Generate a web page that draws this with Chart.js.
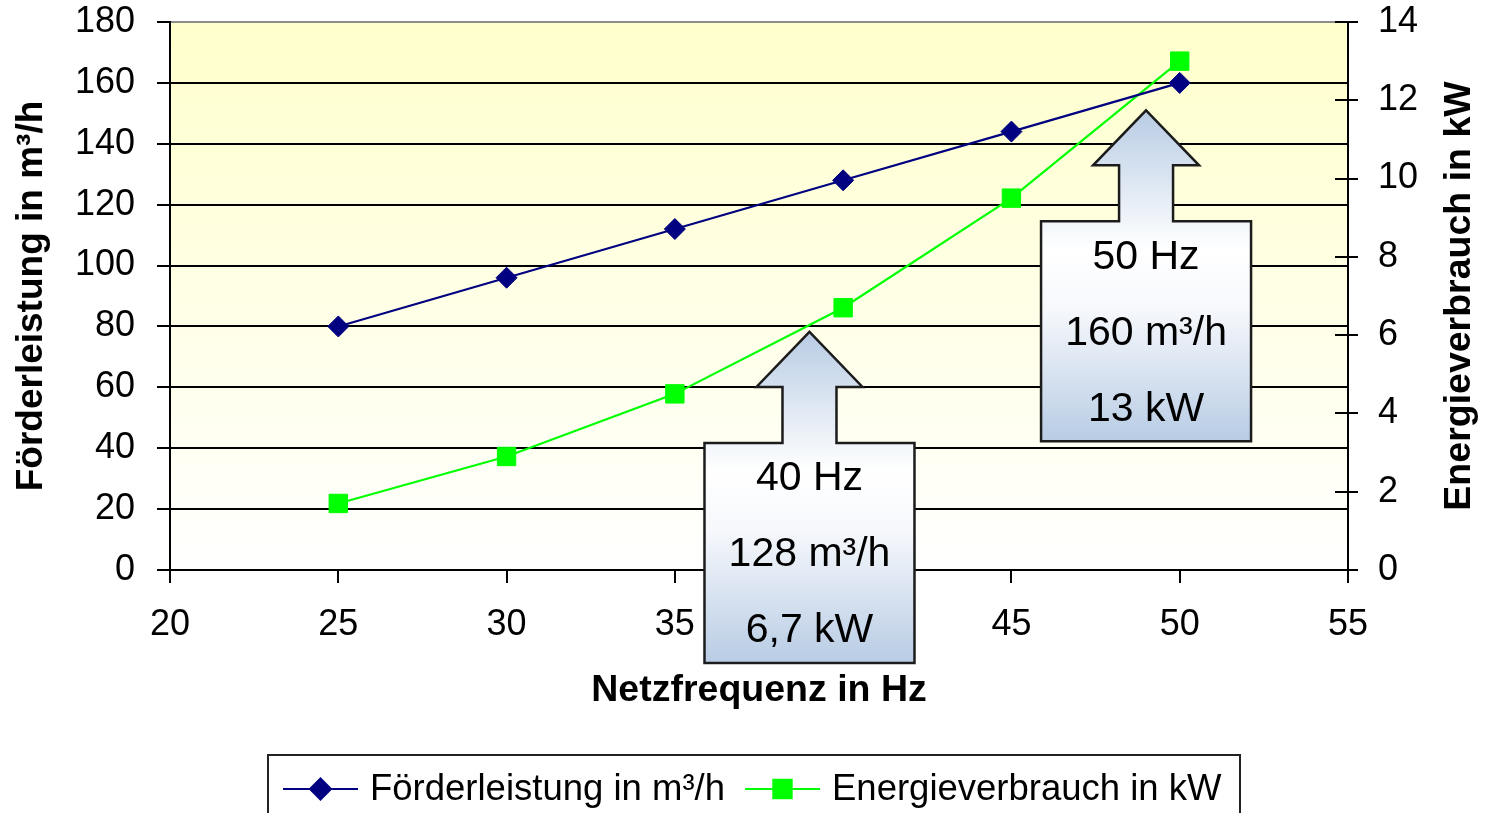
<!DOCTYPE html>
<html><head><meta charset="utf-8">
<script src="https://cdn.jsdelivr.net/npm/chart.js@4"></script>
<style>html,body{margin:0;padding:0;background:#fff;}#wrap{width:1489px;height:813px;}</style>
</head><body><div id="wrap"><canvas id="c" width="1489" height="813"></canvas></div>
<script>
// ---- data ----
const frequencies = [25, 30, 35, 40, 45, 50];
const flowRates = [80, 96, 112, 128, 144, 160];
const energyUse = [1.7, 2.9, 4.5, 6.7, 9.5, 13.0];
const seriesLabels = ['Förderleistung in m³/h', 'Energieverbrauch in kW'];
const xTitle = 'Netzfrequenz in Hz';
const yLeftTitle = 'Förderleistung in m³/h';
const yRightTitle = 'Energieverbrauch in kW';
const calloutTexts = [['40 Hz', '128 m³/h', '6,7 kW'], ['50 Hz', '160 m³/h', '13 kW']];
const calloutTipX = [39, 49];     // x-axis value of arrow tip
const calloutTipY = [78.2, 151];  // left-axis value of arrow tip

const FONT = "'Liberation Sans', Arial, sans-serif";
Chart.defaults.font.family = FONT;
Chart.defaults.color = '#000';

const bgPlugin = {
  id: 'bg',
  beforeDraw(chart) {
    const {ctx, chartArea: a} = chart;
    ctx.save();
    ctx.fillStyle = '#fff';
    ctx.fillRect(0, 0, chart.width, chart.height);
    const g = ctx.createLinearGradient(0, a.top, 0, a.bottom);
    g.addColorStop(0, '#FFFFCC');
    g.addColorStop(1, '#FFFFFF');
    ctx.fillStyle = g;
    ctx.fillRect(a.left, a.top, a.right - a.left, a.bottom - a.top);
    ctx.restore();
  }
};

function drawCallout(ctx, tipX, tipY, lines) {
  const headH = 55, headHW = 53, stemHW = 27, stemH = 56, bodyW = 210, bodyH = 220;
  const baseY = tipY + headH, bodyTop = baseY + stemH, bodyBot = bodyTop + bodyH;
  ctx.save();
  ctx.beginPath();
  ctx.moveTo(tipX, tipY);
  ctx.lineTo(tipX + headHW, baseY);
  ctx.lineTo(tipX + stemHW, baseY);
  ctx.lineTo(tipX + stemHW, bodyTop);
  ctx.lineTo(tipX + bodyW / 2, bodyTop);
  ctx.lineTo(tipX + bodyW / 2, bodyBot);
  ctx.lineTo(tipX - bodyW / 2, bodyBot);
  ctx.lineTo(tipX - bodyW / 2, bodyTop);
  ctx.lineTo(tipX - stemHW, bodyTop);
  ctx.lineTo(tipX - stemHW, baseY);
  ctx.lineTo(tipX - headHW, baseY);
  ctx.closePath();
  const g = ctx.createLinearGradient(0, tipY, 0, bodyBot);
  g.addColorStop(0, '#B8CCE4');
  g.addColorStop(0.42, '#FFFFFF');
  g.addColorStop(0.6, '#F6F8FC');
  g.addColorStop(1, '#B8CCE4');
  ctx.fillStyle = g;
  ctx.fill();
  ctx.lineWidth = 2.5;
  ctx.strokeStyle = '#1c1c1c';
  ctx.lineJoin = 'miter';
  ctx.stroke();
  ctx.fillStyle = '#000';
  ctx.font = '41px ' + FONT;
  ctx.textAlign = 'center';
  ctx.textBaseline = 'middle';
  const offs = [36, 112, 188];
  lines.forEach((t, i) => ctx.fillText(t, tipX, bodyTop + offs[i]));
  ctx.restore();
}

const overlayPlugin = {
  id: 'overlay',
  afterDraw(chart) {
    const {ctx, chartArea: a, scales} = chart;
    // inner ticks on right axis
    ctx.save();
    ctx.strokeStyle = '#000';
    ctx.lineWidth = 2;
    scales.y1.ticks.forEach(t => {
      const y = Math.round(scales.y1.getPixelForValue(t.value));
      ctx.beginPath();
      ctx.moveTo(a.right - 13, y);
      ctx.lineTo(a.right, y);
      ctx.stroke();
    });
    // right axis title (reads bottom to top)
    ctx.font = 'bold 37.5px ' + FONT;
    ctx.fillStyle = '#000';
    ctx.textAlign = 'center';
    ctx.textBaseline = 'middle';
    ctx.translate(1460, (a.top + a.bottom) / 2);
    ctx.rotate(-Math.PI / 2);
    ctx.fillText(yRightTitle, 0, 0);
    ctx.restore();

    // callouts
    calloutTexts.forEach((lines, i) => {
      drawCallout(ctx, scales.x.getPixelForValue(calloutTipX[i]), scales.y.getPixelForValue(calloutTipY[i]), lines);
    });

    // legend
    ctx.save();
    ctx.strokeStyle = '#222';
    ctx.lineWidth = 2;
    ctx.strokeRect(268, 755, 972, 80);
    const ly = 789;
    const entries = [{x0: 283, x1: 358, tx: 370}, {x0: 745, x1: 820, tx: 832}];
    chart.data.datasets.forEach((ds, i) => {
      const e = entries[i];
      ctx.strokeStyle = ds.borderColor;
      ctx.lineWidth = 2;
      ctx.beginPath();
      ctx.moveTo(e.x0, ly);
      ctx.lineTo(e.x1, ly);
      ctx.stroke();
      ctx.fillStyle = ds.backgroundColor;
      Chart.helpers.drawPoint(ctx, {pointStyle: ds.pointStyle, radius: ds.pointRadius, rotation: 0, borderWidth: 1}, (e.x0 + e.x1) / 2, ly);
      ctx.fill();
      ctx.fillStyle = '#000';
      ctx.font = '36.5px ' + FONT;
      ctx.textAlign = 'left';
      ctx.textBaseline = 'middle';
      ctx.fillText(ds.label, e.tx, ly + 1);
    });
    ctx.restore();
  }
};

function fixV(w) {
  return function (s) { s.width = w; s.paddingTop = 0; s.paddingBottom = 0; };
}

new Chart(document.getElementById('c'), {
  type: 'line',
  data: {
    datasets: [
      {
        label: seriesLabels[0],
        data: frequencies.map((f, i) => ({x: f, y: flowRates[i]})),
        yAxisID: 'y',
        borderColor: '#000080',
        backgroundColor: '#000080',
        borderWidth: 2.2,
        pointStyle: 'rectRot',
        pointRadius: 10.5,
        pointBorderWidth: 1,
        tension: 0
      },
      {
        label: seriesLabels[1],
        data: frequencies.map((f, i) => ({x: f, y: energyUse[i]})),
        yAxisID: 'y1',
        borderColor: '#00FF00',
        backgroundColor: '#00FF00',
        borderWidth: 2.2,
        pointStyle: 'rect',
        pointRadius: 13,
        pointBorderWidth: 1,
        tension: 0
      }
    ]
  },
  options: {
    responsive: false,
    animation: false,
    devicePixelRatio: 1,
    layout: {padding: {top: 22, left: 0, right: 0, bottom: 0}},
    plugins: {legend: {display: false}, tooltip: {enabled: false}},
    scales: {
      x: {
        type: 'linear', position: 'bottom', min: 20, max: 55,
        ticks: {stepSize: 5, padding: 20, color: '#000', font: {size: 36}},
        grid: {drawOnChartArea: false, drawTicks: true, tickLength: 13, color: '#000', lineWidth: 2},
        border: {display: true, color: '#000', width: 2},
        title: {display: true, text: xTitle, color: '#000', font: {size: 37.5, weight: 'bold'}, padding: {top: 0, bottom: 100}},
        afterFit(s) { s.height = 243; s.paddingLeft = 0; s.paddingRight = 0; }
      },
      y: {
        position: 'left', min: 0, max: 180,
        ticks: {stepSize: 20, padding: 22, color: '#000', font: {size: 36}},
        grid: {color: c => (c.tick && c.tick.value === 180) ? '#8c8c8c' : '#000', tickColor: '#000', lineWidth: 2, tickLength: 13},
        border: {display: true, color: '#000', width: 2},
        title: {display: true, text: yLeftTitle, color: '#000', font: {size: 37, weight: 'bold'}, padding: {top: 10, bottom: 0}},
        afterFit: fixV(170)
      },
      y1: {
        position: 'right', min: 0, max: 14,
        ticks: {stepSize: 2, padding: 20, color: '#000', font: {size: 36}},
        grid: {drawOnChartArea: false, tickLength: 10, color: '#000', lineWidth: 2},
        border: {display: true, color: '#000', width: 2},
        afterFit: fixV(141)
      }
    }
  },
  plugins: [bgPlugin, overlayPlugin]
});
</script>
</body></html>
